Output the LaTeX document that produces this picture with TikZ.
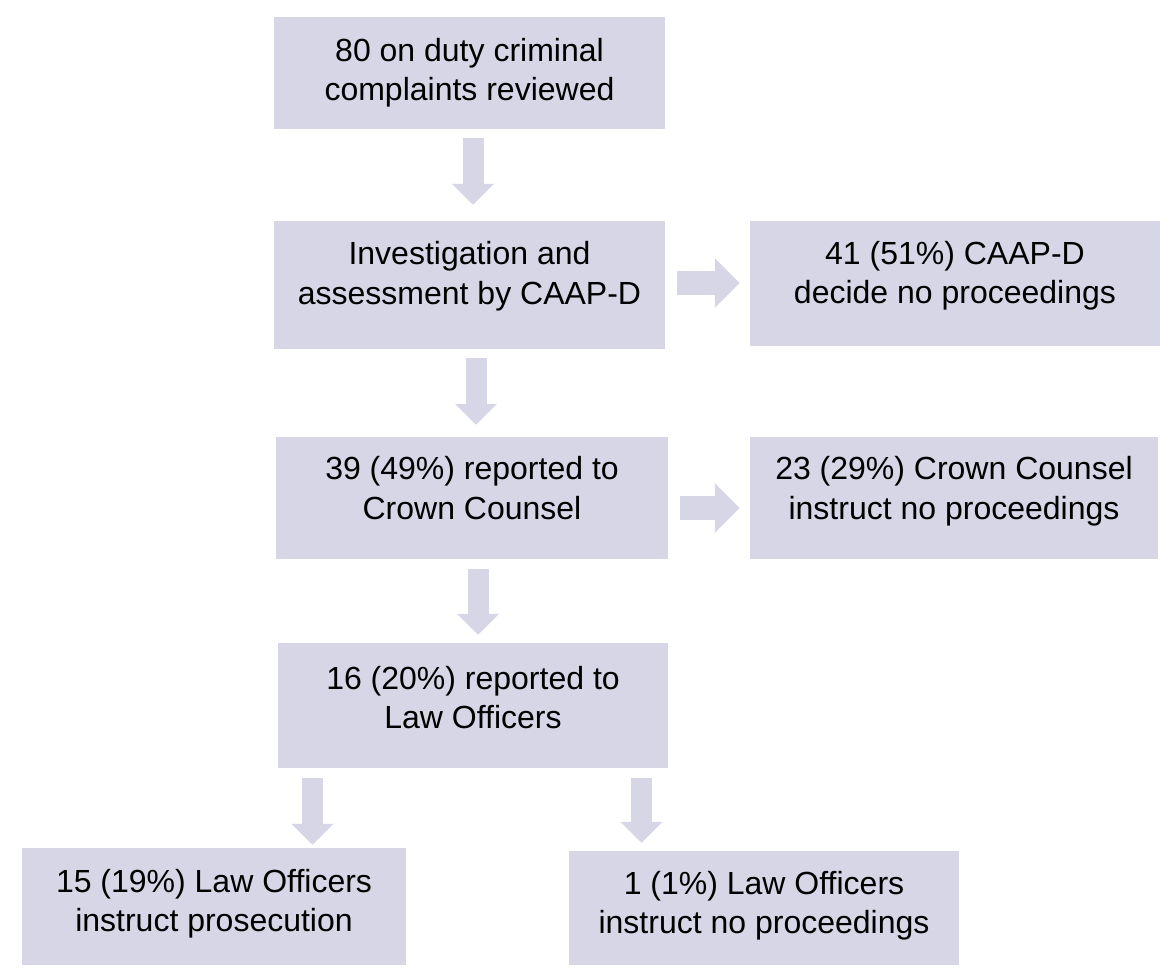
\documentclass[tikz,border=0pt]{standalone}
\usepackage{fontspec}
\setmainfont{Liberation Sans}
\usetikzlibrary{arrows.meta}
\definecolor{boxfill}{RGB}{214,214,230}
\begin{document}
\begin{tikzpicture}[x=1pt,y=-1pt,
  box/.style={draw=none,fill=boxfill,inner sep=0pt},
  txt/.style={align=center,inner sep=0pt,
    font=\fontsize{32}{39.5}\selectfont},
  vdown/.style={draw=boxfill,line width=21pt,
    -{Triangle[length=21pt,width=41pt]}},
  hright/.style={draw=boxfill,line width=24pt,
    -{Triangle[length=25pt,width=48pt]}}]
\useasboundingbox (0,0) rectangle (1176,976);
\node[box,minimum width=391pt,minimum height=112pt] (b1) at (469.5,73) {};
\node[box,minimum width=391pt,minimum height=128pt] (b2) at (469.5,285) {};
\node[box,minimum width=410pt,minimum height=125pt] (b3) at (955,283.5) {};
\node[box,minimum width=392pt,minimum height=122pt] (b4) at (472,498) {};
\node[box,minimum width=408pt,minimum height=122pt] (b5) at (954,498) {};
\node[box,minimum width=390pt,minimum height=125pt] (b6) at (473,705.5) {};
\node[box,minimum width=384pt,minimum height=117pt] (b7) at (214,906.5) {};
\node[box,minimum width=390pt,minimum height=114pt] (b8) at (764,908) {};
\node[txt] (t1) at ([yshift=0.5pt]b1.center) {80 on duty criminal\\complaints reviewed};
\node[txt] (t2) at ([yshift=9pt]b2.center) {Investigation and\\assessment by CAAP-D};
\node[txt] (t3) at ([yshift=8pt]b3.center) {41 (51\%) CAAP-D\\decide no proceedings};
\node[txt] (t4) at ([yshift=10pt]b4.center) {39 (49\%) reported to\\Crown Counsel};
\node[txt] (t5) at ([yshift=7pt]b5.center) {23 (29\%) Crown Counsel\\instruct no proceedings};
\node[txt] (t6) at ([yshift=8pt]b6.center) {16 (20\%) reported to\\Law Officers};
\node[txt] (t7) at ([yshift=3pt]b7.center) {15 (19\%) Law Officers\\instruct prosecution};
\node[txt] (t8) at ([yshift=2.5pt]b8.center) {1 (1\%) Law Officers\\instruct no proceedings};
\coordinate (a1) at (473,0);
\coordinate (a3) at (476,0);
\coordinate (a5) at (478,0);
\coordinate (a6) at (312.5,0);
\coordinate (a7) at (641.5,0);
\coordinate (h2) at (0,283);
\coordinate (h4) at (0,508);
\draw[vdown,shorten <=9pt,shorten >=16pt] (b1.south -| a1) -- (b2.north -| a1);
\draw[vdown,shorten <=9pt,shorten >=12pt] (b2.south -| a3) -- (b4.north -| a3);
\draw[vdown,shorten <=10pt,shorten >=8pt] (b4.south -| a5) -- (b6.north -| a5);
\draw[vdown,shorten <=10pt,shorten >=3pt] (b6.south -| a6) -- (b7.north -| a6);
\draw[vdown,shorten <=10pt,shorten >=8pt] (b6.south -| a7) -- (b8.north -| a7);
\draw[hright,shorten <=12pt,shorten >=10pt] (b2.east |- h2) -- (b3.west |- h2);
\draw[hright,shorten <=12pt,shorten >=10pt] (b4.east |- h4) -- (b5.west |- h4);
\end{tikzpicture}
\end{document}
